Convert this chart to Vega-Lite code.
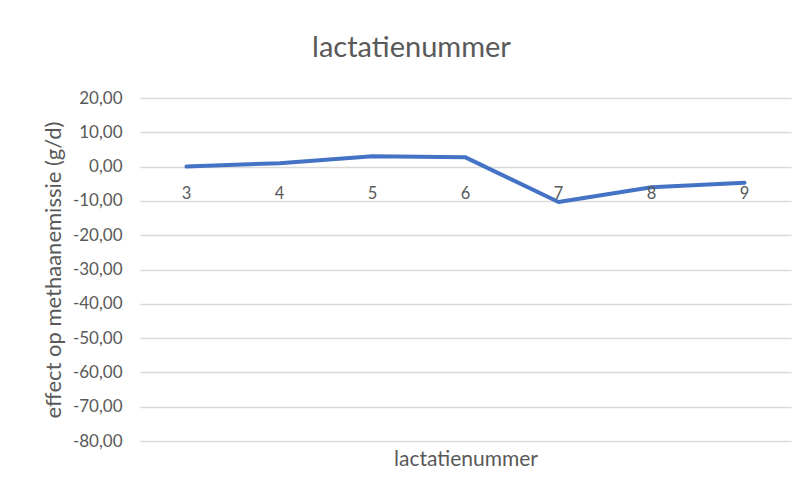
{
  "$schema": "https://vega.github.io/schema/vega-lite/v6.json",
  "width": 651,
  "height": 343,
  "autosize": {"type": "none"},
  "padding": {"left": 140, "top": 98, "right": 18, "bottom": 52},
  "background": "white",
  "config": {
    "view": {"stroke": null},
    "font": "Lato",
    "axis": {"labelOverlap": false}
  },
  "title": {
    "text": "lactatienummer",
    "font": "Lato",
    "fontSize": 29,
    "fontWeight": "normal",
    "color": "#595959",
    "anchor": "middle",
    "dx": -54,
    "offset": 26
  },
  "data": {
    "values": [
      {"lact": "3", "effect": 0.0},
      {"lact": "4", "effect": 1.0},
      {"lact": "5", "effect": 3.0},
      {"lact": "6", "effect": 2.7},
      {"lact": "7", "effect": -10.3},
      {"lact": "8", "effect": -6.0},
      {"lact": "9", "effect": -4.7}
    ]
  },
  "encoding": {
    "x": {
      "field": "lact",
      "type": "ordinal",
      "scale": {"type": "point", "padding": 0.5},
      "axis": {
        "title": "lactatienummer",
        "labels": false,
        "ticks": false,
        "domain": false,
        "grid": false,
        "titleFont": "Lato",
        "titleFontSize": 21,
        "titleFontWeight": "normal",
        "titleColor": "#595959",
        "titlePadding": 7
      }
    }
  },
  "layer": [
    {
      "mark": {"type": "line", "color": "#4472C4", "strokeWidth": 4, "strokeCap": "round", "strokeJoin": "round"},
      "encoding": {
        "y": {
          "field": "effect",
          "type": "quantitative",
          "scale": {"domain": [-80, 20], "nice": false, "zero": false},
          "axis": {
            "title": "effect op methaanemissie (g/d)",
            "tickCount": 11,
            "labelExpr": "replace(replace(format(datum.value, '.2f'), '.', ','), '\u2212', '-')",
            "labelOverlap": false,
            "ticks": false,
            "domain": false,
            "grid": true,
            "gridColor": "#d9d9d9",
            "gridWidth": 1.5,
            "labelFont": "Lato",
            "labelFontSize": 17,
            "labelColor": "#595959",
            "labelPadding": 18,
            "titleFont": "Lato",
            "titleFontSize": 22,
            "titleFontWeight": "normal",
            "titleColor": "#595959",
            "titlePadding": 7
          }
        }
      }
    },
    {
      "mark": {"type": "text", "font": "Lato", "fontSize": 16.5, "color": "#595959", "baseline": "middle", "dy": 27},
      "encoding": {
        "y": {"datum": 0, "type": "quantitative"},
        "text": {"field": "lact", "type": "nominal"}
      }
    }
  ]
}
